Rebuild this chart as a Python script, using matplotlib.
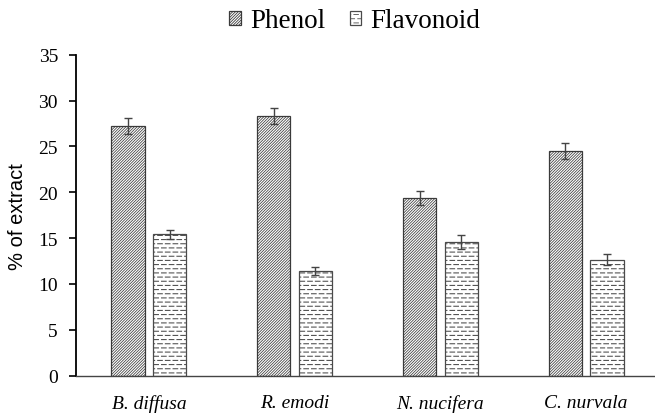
import numpy as np
import matplotlib
matplotlib.use("Agg")
import matplotlib.pyplot as plt
import matplotlib.hatch as mhatch
from matplotlib.path import Path

# ---------------- data ----------------
categories = ["B. diffusa", "R. emodi", "N. nucifera", "C. nurvala"]
series_names = ["Phenol", "Flavonoid"]
phenol = [27.2, 28.3, 19.4, 24.5]
phenol_err = [0.9, 0.85, 0.75, 0.9]
flavonoid = [15.4, 11.4, 14.55, 12.65]
flavonoid_err = [0.45, 0.4, 0.75, 0.6]
yticks = [0, 5, 10, 15, 20, 25, 30, 35]


# ---------------- custom dashed hatch (replaces 'o') ----------------
class DashedRows(mhatch.HatchPatternBase):
    def __init__(self, hatch, density):
        n = hatch.count('o')
        rows = int(n * density)
        if rows % 2:
            rows += 1
        self.rows = rows
        self.m = int(round(n * density * 0.54)) if n else 0
        self.frac = 0.6
        if n == 0:
            self.num_vertices = 0
        else:
            half = rows // 2
            self.num_vertices = half * self.m * 2 + half * (self.m + 1) * 2

    def set_vertices_and_codes(self, vertices, codes):
        m = self.m
        period = 1.0 / m
        L = self.frac * period
        k = 0
        for i in range(self.rows):
            y = (i + 0.5) / self.rows
            segs = []
            if i % 2 == 0:
                for j in range(m):
                    segs.append((j * period, j * period + L))
            else:
                for j in range(m):
                    x0 = (j + 0.5) * period
                    x1 = x0 + L
                    if x1 > 1.0:
                        segs.append((x0, 1.0))
                        segs.append((0.0, x1 - 1.0))
                    else:
                        segs.append((x0, x1))
                if len(segs) == m:
                    segs.append((0.0, 0.0))
            for (a, b) in segs:
                vertices[k] = (a, y)
                vertices[k + 1] = (b, y)
                codes[k] = Path.MOVETO
                codes[k + 1] = Path.LINETO
                k += 2


mhatch._hatch_types = [t for t in mhatch._hatch_types
                       if t.__name__ != "SmallCircles"] + [DashedRows]

plt.rcParams["hatch.linewidth"] = 0.6

# ---------------- figure ----------------
W, H = 655, 414
fig = plt.figure(figsize=(W / 100, H / 100), dpi=100)
ax = fig.add_axes([76 / W, (H - 376.7) / H, 583 / W, 321 / H])

x = np.arange(len(categories))
bw = 0.229
off = 0.143
edge = "#3a3a3a"

with plt.rc_context({"hatch.linewidth": 0.55}):
    b1 = ax.bar(x - off, phenol, bw, color="white", edgecolor=edge,
                hatch="/" * 12, linewidth=0.9, label=series_names[0], zorder=2)
with plt.rc_context({"hatch.linewidth": 0.75}):
    b2 = ax.bar(x + off, flavonoid, bw, color="white", edgecolor="#4a4a4a",
                hatch="oooo", linewidth=0.9, label=series_names[1], zorder=2)
for bars, lw in ((b1, 0.55), (b2, 0.75)):
    for p in bars:
        if hasattr(p, "set_hatch_linewidth"):
            p.set_hatch_linewidth(lw)

ax.errorbar(x - off, phenol, yerr=phenol_err, fmt="none", ecolor="#444444",
            elinewidth=1.0, capsize=3, capthick=1.0, zorder=3)
ax.errorbar(x + off, flavonoid, yerr=flavonoid_err, fmt="none", ecolor="#444444",
            elinewidth=1.0, capsize=3, capthick=1.0, zorder=3)

ax.set_xlim(-0.5, len(categories) - 0.5)
ax.set_ylim(0, 35)
ax.set_yticks(yticks)
ax.set_yticklabels([str(v) for v in yticks], fontfamily="Liberation Serif",
                   fontsize=14)
ax.set_xticks(x)
ax.set_xticklabels(categories, fontfamily="Liberation Serif", fontstyle="italic",
                   fontsize=14)
ax.tick_params(axis="x", length=0, pad=13)
ax.tick_params(axis="y", length=5, width=1.2, pad=8, direction="out")

for s in ["top", "right"]:
    ax.spines[s].set_visible(False)
ax.spines["left"].set_linewidth(1.3)
ax.spines["left"].set_color("black")
ax.spines["bottom"].set_linewidth(1.0)
ax.spines["bottom"].set_color("#444444")

ax.set_ylabel("% of extract", fontfamily="Liberation Sans", fontsize=14.5,
              labelpad=8)

leg = fig.legend(loc="center", bbox_to_anchor=(355 / W, 1 - 22 / H),
                 ncol=2, frameon=False,
                 prop={"family": "Liberation Serif", "size": 19.5},
                 handlelength=0.42, handleheight=0.42, handletextpad=0.35,
                 columnspacing=0.9)

fig.savefig("out.png", dpi=100)
